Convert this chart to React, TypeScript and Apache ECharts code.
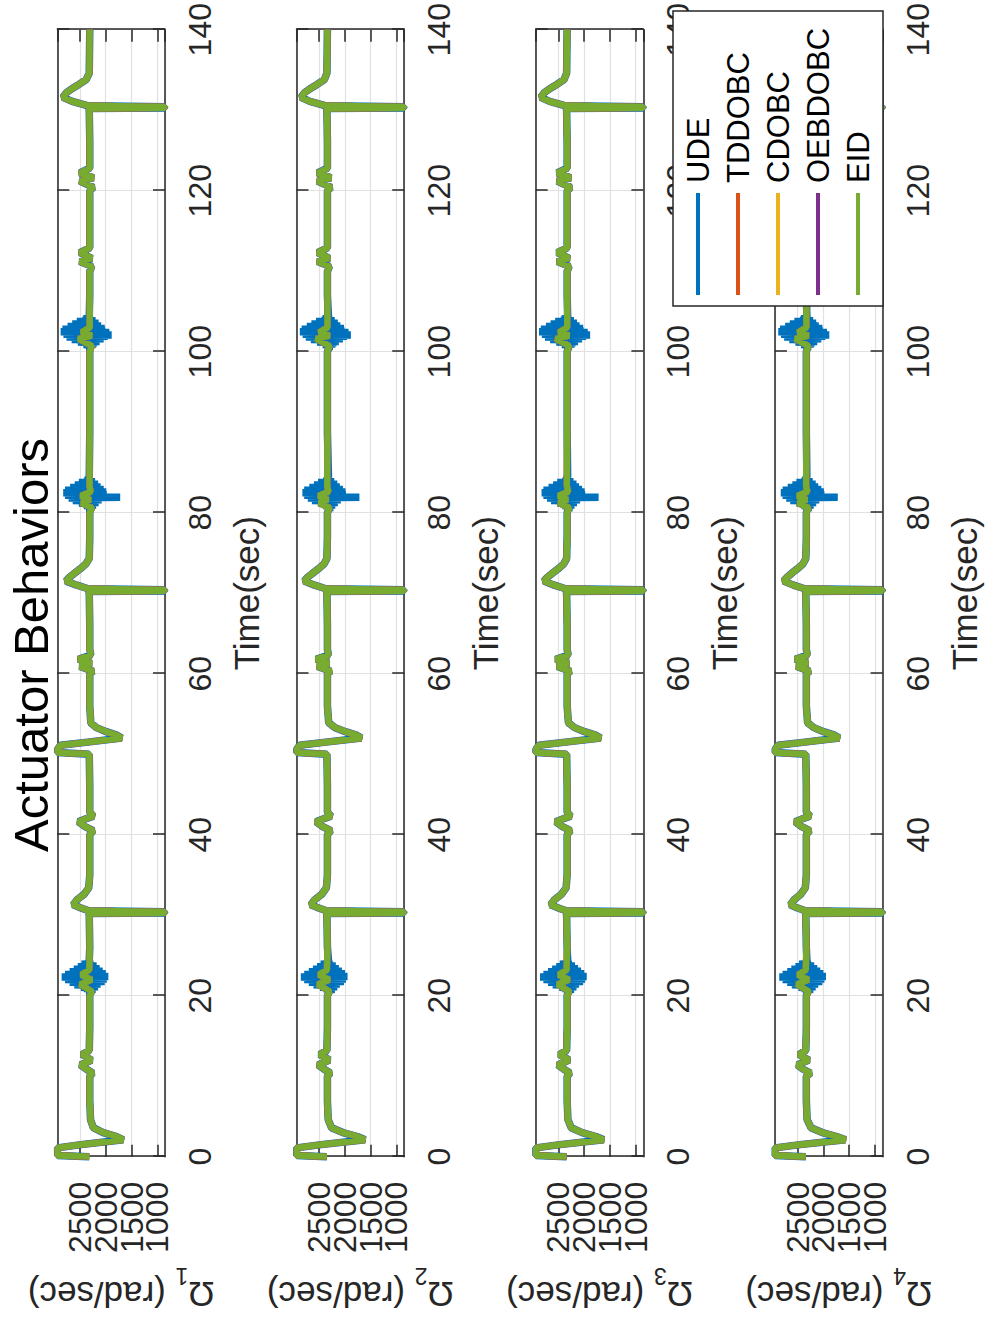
import React, { useEffect, useRef } from "react";
import * as echarts from "echarts";

// ---------- data ----------
const SERIES_NAMES = ["UDE", "TDDOBC", "CDOBC", "OEBDOBC", "EID"];
const SERIES_COLORS = ["#0072BD", "#D95319", "#EDB120", "#7E2F8E", "#77AC30"];
const MOTOR_INDEX = ["1", "2", "3", "4"];
const TITLE = "Actuator Behaviors";
const X_LABEL = "Time(sec)";
const TIME_MIN = 0;
const TIME_MAX = 140;
const TIME_STEP = 20;
const SPEED_MIN = 850;
const SPEED_MAX = 2940;

// time stamps (sec) of the read key points, shared by the four rotor traces
const T = [
  0, 0.15, 1.1, 1.5, 2.1, 2.5, 3.0, 3.6, 4.6, 7.0,
  10.0, 10.4, 10.9, 11.4, 11.7, 12.0, 12.4, 12.7, 13.2, 16.0,
  20.0, 20.5, 21.0, 21.4, 21.7, 22.0, 22.3, 22.6, 23.2, 26.0,
  30.0, 30.2, 30.28, 30.42, 30.55, 31.0, 31.3, 31.9, 32.6, 33.4, 35.0,
  40.0, 40.5, 41.0, 41.6, 42.0, 42.3, 42.8, 46.0,
  50.0, 50.2, 50.6, 51.1, 51.5, 52.0, 52.4, 52.8, 53.3, 53.9, 56.0,
  60.0, 60.3, 60.9, 61.3, 61.8, 62.3, 63.0, 66.0,
  70.0, 70.2, 70.28, 70.42, 70.55, 71.0, 71.5, 72.0, 72.5, 73.0, 73.6, 74.3, 77.0,
  80.0, 80.6, 81.2, 81.6, 82.1, 82.6, 83.3, 90.0,
  100.0, 100.7, 101.6, 102.0, 102.4, 103.0, 107.0,
  110.0, 110.6, 111.2, 111.6, 112.3, 112.9, 116.0,
  120.0, 120.4, 121.2, 121.6, 122.2, 122.8, 126.0,
  130.0, 130.2, 130.28, 130.42, 130.55, 131.1, 131.6, 132.2, 132.7, 133.2, 133.8, 134.6, 140.0,
];

// EID rotor speeds (rad/sec) at T
const EID_M1 = [
  2320, 2935, 2935, 2480, 1660, 1790, 2050, 2240, 2295, 2310,
  2310, 2255, 2380, 2490, 2380, 2275, 2380, 2460, 2320, 2310,
  2310, 2265, 2390, 2495, 2380, 2270, 2390, 2470, 2320, 2310,
  2320, 2330, 858, 858, 2330, 2520, 2630, 2560, 2420, 2330, 2310,
  2310, 2245, 2400, 2530, 2380, 2240, 2310, 2310,
  2320, 2935, 2935, 2880, 2350, 1690, 1800, 1990, 2180, 2290, 2310,
  2310, 2245, 2500, 2280, 2530, 2290, 2310, 2310,
  2320, 2330, 858, 858, 2340, 2560, 2770, 2700, 2600, 2500, 2390, 2320, 2310,
  2310, 2265, 2470, 2300, 2480, 2290, 2315, 2310,
  2310, 2270, 2530, 2270, 2470, 2310, 2310,
  2310, 2270, 2500, 2270, 2500, 2310, 2310,
  2310, 2240, 2500, 2240, 2500, 2310, 2310,
  2320, 2330, 858, 858, 2340, 2650, 2830, 2760, 2650, 2520, 2380, 2320, 2310,
];
const EID_M2 = [
  2350, 2935, 2935, 2460, 1610, 1760, 2040, 2260, 2325, 2340,
  2340, 2285, 2410, 2520, 2410, 2300, 2410, 2490, 2350, 2340,
  2340, 2295, 2420, 2525, 2410, 2300, 2420, 2500, 2350, 2340,
  2350, 2360, 858, 858, 2360, 2550, 2660, 2590, 2450, 2360, 2340,
  2340, 2275, 2430, 2560, 2410, 2270, 2340, 2340,
  2350, 2935, 2935, 2880, 2370, 1680, 1790, 1990, 2190, 2315, 2340,
  2340, 2275, 2530, 2310, 2560, 2320, 2340, 2340,
  2350, 2360, 858, 858, 2370, 2590, 2790, 2720, 2620, 2520, 2410, 2350, 2340,
  2340, 2295, 2500, 2330, 2510, 2320, 2345, 2340,
  2340, 2300, 2560, 2300, 2500, 2340, 2340,
  2340, 2300, 2530, 2300, 2530, 2340, 2340,
  2340, 2270, 2530, 2270, 2530, 2340, 2340,
  2350, 2360, 858, 858, 2370, 2680, 2850, 2780, 2670, 2540, 2400, 2350, 2340,
];
const EID_M3 = [
  2340, 2935, 2935, 2470, 1620, 1770, 2040, 2250, 2315, 2330,
  2330, 2275, 2400, 2510, 2400, 2290, 2400, 2480, 2340, 2330,
  2330, 2285, 2410, 2515, 2400, 2290, 2410, 2490, 2340, 2330,
  2340, 2350, 858, 858, 2350, 2540, 2650, 2580, 2440, 2350, 2330,
  2330, 2265, 2420, 2550, 2400, 2260, 2330, 2330,
  2340, 2935, 2935, 2880, 2360, 1680, 1790, 1990, 2185, 2305, 2330,
  2330, 2265, 2520, 2300, 2550, 2310, 2330, 2330,
  2340, 2350, 858, 858, 2360, 2580, 2780, 2710, 2610, 2510, 2400, 2340, 2330,
  2330, 2285, 2490, 2320, 2500, 2310, 2335, 2330,
  2330, 2290, 2550, 2290, 2490, 2330, 2330,
  2330, 2290, 2520, 2290, 2520, 2330, 2330,
  2330, 2260, 2520, 2260, 2520, 2330, 2330,
  2340, 2350, 858, 858, 2360, 2670, 2840, 2770, 2660, 2530, 2390, 2340, 2330,
];
const EID_M4 = [
  2340, 2935, 2935, 2450, 1570, 1740, 2020, 2240, 2315, 2330,
  2330, 2250, 2400, 2500, 2400, 2280, 2400, 2470, 2340, 2330,
  2330, 2280, 2410, 2510, 2400, 2285, 2410, 2485, 2340, 2330,
  2340, 2350, 858, 858, 2350, 2540, 2640, 2570, 2440, 2350, 2330,
  2330, 2265, 2420, 2545, 2400, 2260, 2330, 2330,
  2340, 2935, 2935, 2880, 2360, 1690, 1800, 1995, 2185, 2305, 2330,
  2330, 2265, 2515, 2300, 2545, 2310, 2330, 2330,
  2340, 2350, 858, 858, 2360, 2580, 2770, 2700, 2610, 2510, 2400, 2340, 2330,
  2330, 2285, 2490, 2320, 2500, 2310, 2335, 2330,
  2330, 2290, 2545, 2290, 2490, 2330, 2330,
  2330, 2290, 2520, 2290, 2520, 2330, 2330,
  2330, 2260, 2520, 2260, 2520, 2330, 2330,
  2340, 2350, 858, 858, 2360, 2660, 2840, 2770, 2660, 2530, 2390, 2340, 2330,
];
const EID_BY_MOTOR = [EID_M1, EID_M2, EID_M3, EID_M4];

// UDE chattering bursts (rad/sec), sampled every BURST_STEP seconds from the start time
const BURST_STEP = 0.08;
const UDE_BURST_20_START = 20.4;
const UDE_BURST_20 = [
  2310, 2280, 2350, 2250, 2330, 2200, 2420, 2260, 2480, 2150,
  2440, 2190, 2610, 2100, 2520, 2160, 2700, 2020, 2580, 2090,
  2790, 1980, 2650, 2050, 2855, 1950, 2700, 2080, 2790, 2000,
  2620, 2110, 2700, 2060, 2560, 2150, 2620, 2120, 2480, 2200,
  2540, 2180, 2430, 2240, 2470, 2250, 2380, 2280, 2360, 2300, 2320,
];
const UDE_BURST_80_START = 80.4;
const UDE_BURST_80 = [
  2310, 2280, 2350, 2230, 2340, 2250, 2420, 2190, 2400, 2200,
  2520, 2140, 2480, 2160, 2640, 2080, 2560, 2110, 2720, 1720,
  2680, 2010, 2790, 1980, 2700, 2050, 2825, 1990, 2740, 2060,
  2790, 2040, 2640, 2120, 2690, 2100, 2560, 2170, 2600, 2150,
  2480, 2220, 2520, 2210, 2420, 2260, 2400, 2270, 2360, 2295, 2320,
];
const UDE_BURST_100_START = 100.4;
const UDE_BURST_100 = [
  2310, 2290, 2360, 2240, 2340, 2260, 2430, 2190, 2410, 2170,
  2540, 2120, 2490, 2150, 2660, 2040, 2580, 2090, 2760, 1960,
  2700, 1885, 2820, 1990, 2760, 1930, 2875, 2010, 2790, 2050,
  2840, 2020, 2700, 2110, 2740, 2090, 2600, 2160, 2650, 2140,
  2520, 2210, 2560, 2200, 2450, 2250, 2430, 2260, 2370, 2290, 2320,
];
const UDE_BURSTS = [
  { start: UDE_BURST_20_START, values: UDE_BURST_20 },
  { start: UDE_BURST_80_START, values: UDE_BURST_80 },
  { start: UDE_BURST_100_START, values: UDE_BURST_100 },
];

// ---------- layout (landscape frame, rotated onto the page) ----------
const W = 1336;
const H = 990;
const GRID_LEFT = 179.3;
const GRID_RIGHT = 29;
const GRID_TOP0 = 57.3;
const GRID_STEP = 239.2;
const GRID_H = 107.7;
const FONT = "'Liberation Sans', Arial, Helvetica, sans-serif";
const AXIS_COLOR = "#262626";
const GRID_COLOR = "#e1e1e1";

function pairs(values: number[]): number[][] {
  return T.map((t, i) => [t, values[i]]);
}

function udeSeries(values: number[]): number[][] {
  const ends = UDE_BURSTS.map((b) => [b.start, b.start + BURST_STEP * (b.values.length - 1)]);
  const out = pairs(values).filter(([t]) => !ends.some(([s, e]) => t >= s && t <= e));
  UDE_BURSTS.forEach((b) => b.values.forEach((v, i) => out.push([+(b.start + i * BURST_STEP).toFixed(3), v])));
  out.sort((a, b) => a[0] - b[0]);
  return out;
}

function buildOption() {
  const grid: any[] = [];
  const xAxis: any[] = [];
  const yAxis: any[] = [];
  const series: any[] = [];
  const tick = { show: true, inside: true, length: 12, lineStyle: { color: AXIS_COLOR, width: 1.5 } };
  const line = { show: true, onZero: false, lineStyle: { color: AXIS_COLOR, width: 1.5 } };

  MOTOR_INDEX.forEach((m, k) => {
    grid.push({ left: GRID_LEFT, right: GRID_RIGHT, top: GRID_TOP0 + GRID_STEP * k, height: GRID_H, containLabel: false });
    xAxis.push({
      type: "value", gridIndex: k, position: "bottom", min: TIME_MIN, max: TIME_MAX, interval: TIME_STEP,
      axisLine: line, axisTick: tick,
      axisLabel: { fontSize: 32, color: AXIS_COLOR, fontFamily: FONT, margin: 19, formatter: (v: number) => String(v) },
      splitLine: { show: true, lineStyle: { color: GRID_COLOR, width: 1.2 } },
      name: X_LABEL, nameLocation: "middle", nameGap: 64,
      nameTextStyle: { fontSize: 35, color: AXIS_COLOR, fontFamily: FONT },
    });
    xAxis.push({
      type: "value", gridIndex: k, position: "top", min: TIME_MIN, max: TIME_MAX, interval: TIME_STEP,
      axisLine: line, axisTick: tick, axisLabel: { show: false }, splitLine: { show: false },
    });
    yAxis.push({
      type: "value", gridIndex: k, position: "left", min: SPEED_MIN, max: SPEED_MAX, splitNumber: 4,
      axisLine: line, axisTick: tick,
      axisLabel: {
        fontSize: 32, color: AXIS_COLOR, fontFamily: FONT, margin: 25,
        showMinLabel: false, showMaxLabel: false, formatter: (v: number) => String(v),
      },
      splitLine: { show: true, lineStyle: { color: GRID_COLOR, width: 1.2 } },
      name: "Ω{s|" + m + "} (rad/sec)", nameLocation: "middle", nameGap: 120, nameRotate: 90,
      nameTextStyle: {
        fontSize: 35, lineHeight: 35, color: AXIS_COLOR, fontFamily: FONT, padding: [0, 20, 0, 0],
        rich: { s: { fontSize: 23, lineHeight: 23, color: AXIS_COLOR, fontFamily: FONT, verticalAlign: "top", padding: [24, 0, 0, 0] } },
      },
    });
    yAxis.push({
      type: "value", gridIndex: k, position: "right", min: SPEED_MIN, max: SPEED_MAX, splitNumber: 4,
      axisLine: line, axisTick: tick, axisLabel: { show: false }, splitLine: { show: false },
    });
    const eid = EID_BY_MOTOR[k];
    SERIES_NAMES.forEach((name, s) => {
      series.push({
        type: "line", name, xAxisIndex: 2 * k, yAxisIndex: 2 * k,
        data: s === 0 ? udeSeries(eid) : pairs(eid),
        showSymbol: false, symbol: "none", smooth: false,
        lineStyle: { color: SERIES_COLORS[s], width: s === 0 ? 7.5 : 6.3 },
        itemStyle: { color: SERIES_COLORS[s] },
        emphasis: { disabled: true },
        z: 2 + s,
      });
    });
  });

  return {
    animation: false,
    backgroundColor: "#ffffff",
    textStyle: { fontFamily: FONT },
    grid, xAxis, yAxis, series,
    legend: {
      data: SERIES_NAMES, orient: "vertical", left: 1030, top: 673,
      icon: "rect", itemWidth: 102, itemHeight: 4, itemGap: 8,
      padding: [9, 17, 9, 11],
      backgroundColor: "#ffffff", borderColor: AXIS_COLOR, borderWidth: 1.5,
      textStyle: { fontSize: 31, lineHeight: 32, color: "#000000", fontFamily: FONT, padding: [0, 0, 0, 5] },
      selectedMode: false, z: 10,
    },
    graphic: [
      {
        type: "text", x: 691, y: 31, z: 10,
        style: { text: TITLE, fontSize: 49, fontFamily: FONT, fill: "#000000", align: "center", verticalAlign: "middle" },
      },
    ],
  };
}

export default function App() {
  const ref = useRef<HTMLDivElement>(null);
  useEffect(() => {
    if (!ref.current) return;
    const chart = echarts.init(ref.current, null, { renderer: "svg" });
    chart.setOption(buildOption() as any);
    return () => chart.dispose();
  }, []);
  return (
    <div style={{ position: "absolute", left: 0, top: 0, width: H, height: W, overflow: "hidden", background: "#ffffff" }}>
      <div
        ref={ref}
        style={{
          position: "absolute", left: 0, top: 0, width: W, height: H,
          transformOrigin: "0 0", transform: `translate(0px, ${W}px) rotate(-90deg)`,
        }}
      />
    </div>
  );
}
